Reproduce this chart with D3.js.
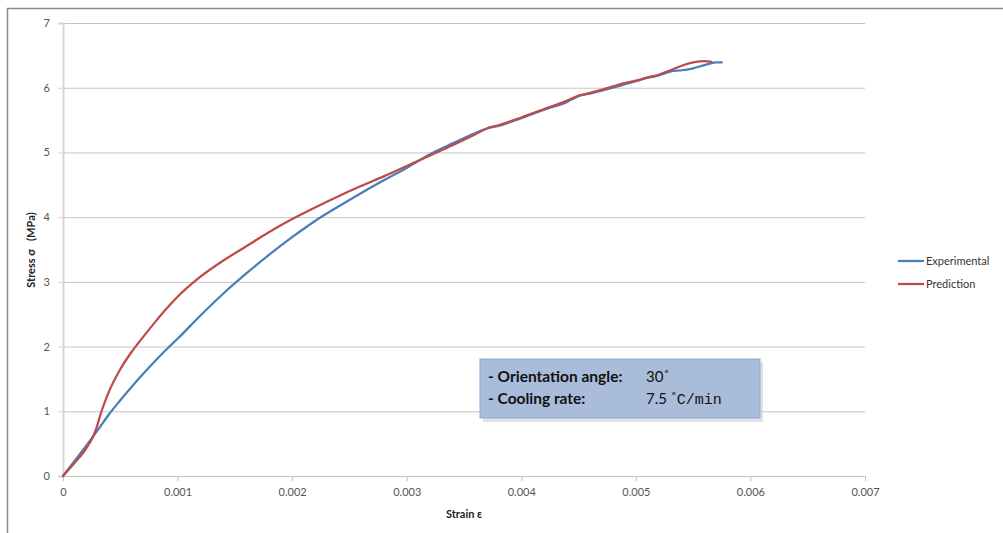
<!DOCTYPE html>
<html>
<head>
<meta charset="utf-8">
<script src="https://cdn.jsdelivr.net/npm/d3@7"></script>
<style>
  body { margin: 0; background: #fff; }
  svg { display: block; font-family: Lato, "Open Sans", sans-serif; }
</style>
</head>
<body>
<svg></svg>
<script>
let W = 1003;
let H = 533;

// data
let expStrain = [0, 0.0001, 0.0002, 0.0003, 0.0004, 0.0005, 0.0006, 0.0007, 0.0008, 0.0009, 0.001,
    0.0012, 0.0014, 0.0016, 0.0018, 0.002, 0.0022, 0.0024, 0.0026, 0.0028, 0.003, 0.0032, 0.0034,
    0.0036, 0.0037, 0.0038, 0.004, 0.0042, 0.0044, 0.0045, 0.0046, 0.0048, 0.0049, 0.005, 0.0051,
    0.0052, 0.0053, 0.0054, 0.0055, 0.0056, 0.0057, 0.00575];
let expStress = [0, 0.23, 0.46, 0.7, 0.95, 1.17, 1.38, 1.58, 1.77, 1.95, 2.12,
    2.48, 2.82, 3.13, 3.42, 3.69, 3.94, 4.16, 4.37, 4.57, 4.76, 4.97, 5.14,
    5.3, 5.37, 5.41, 5.53, 5.66, 5.78, 5.87, 5.91, 6.0, 6.05, 6.1, 6.15,
    6.19, 6.25, 6.27, 6.3, 6.35, 6.39, 6.39];

let predStrain = [0, 0.0001, 0.0002, 0.00028, 0.00034, 0.0004, 0.0005, 0.0006, 0.0007, 0.0008, 0.0009,
    0.001, 0.0012, 0.0014, 0.0016, 0.0018, 0.002, 0.0022, 0.0024, 0.0026, 0.0028, 0.003, 0.0032,
    0.0034, 0.0036, 0.0037, 0.0038, 0.004, 0.0042, 0.0044, 0.0045, 0.0046, 0.0048, 0.0049, 0.005,
    0.0051, 0.0052, 0.0053, 0.0054, 0.0055, 0.0056, 0.00566];
let predStress = [0, 0.2, 0.42, 0.68, 1.02, 1.3, 1.65, 1.92, 2.15, 2.37, 2.58,
    2.77, 3.08, 3.33, 3.55, 3.77, 3.97, 4.15, 4.32, 4.48, 4.63, 4.79, 4.95,
    5.11, 5.28, 5.37, 5.42, 5.54, 5.67, 5.8, 5.88, 5.92, 6.02, 6.07, 6.11,
    6.16, 6.2, 6.27, 6.34, 6.39, 6.41, 6.4];

let xTicks = [0, 0.001, 0.002, 0.003, 0.004, 0.005, 0.006, 0.007];
let yTicks = [0, 1, 2, 3, 4, 5, 6, 7];
let seriesNames = ["Experimental", "Prediction"];
let seriesColors = ["#4a7ebb", "#be4b48"];

let svg = d3.select("svg").attr("width", W).attr("height", H);

// outer frame (only left and top visible)
svg.append("path")
    .attr("d", "M7.5," + H + " L7.5,8.5 L" + W + ",8.5")
    .attr("fill", "none")
    .attr("stroke", "#8a8a8a")
    .attr("stroke-width", 1.5);

let x = d3.scaleLinear().domain([0, 0.007]).range([63, 865]);
let y = d3.scaleLinear().domain([0, 7]).range([476, 23]);

// gridlines
svg.append("g")
    .selectAll("line")
    .data(yTicks.slice(1))
    .enter().append("line")
    .attr("x1", x(0)).attr("x2", x(0.007))
    .attr("y1", function (d) { return y(d) + 0.5; })
    .attr("y2", function (d) { return y(d) + 0.5; })
    .attr("stroke", "#c4c4c4")
    .attr("stroke-width", 1);

// y axis
let yAxis = svg.append("g")
    .attr("transform", "translate(" + x(0) + ",0)")
    .call(d3.axisLeft(y).tickValues(yTicks).tickSize(5).tickPadding(8).tickFormat(d3.format("d")));
yAxis.select(".domain").attr("stroke", "#d6d6d6").attr("stroke-width", 2);
yAxis.selectAll(".tick line").attr("stroke", "#d6d6d6");
yAxis.selectAll("text").attr("fill", "#555").style("font-size", "11px").style("font-family", "Lato, sans-serif");

// x axis
let xAxis = svg.append("g")
    .attr("transform", "translate(0," + y(0) + ")")
    .call(d3.axisBottom(x).tickValues(xTicks).tickSize(5).tickPadding(7).tickFormat(function (d) {
        return d === 0 ? "0" : d3.format(".3f")(d);
    }));
xAxis.select(".domain").attr("stroke", "#c4c4c4").attr("stroke-width", 1);
xAxis.selectAll(".tick line").attr("stroke", "#c4c4c4");
xAxis.selectAll("text").attr("fill", "#555").style("font-size", "11px").style("font-family", "Lato, sans-serif");

// axis titles
svg.append("text")
    .attr("x", 464).attr("y", 518)
    .attr("text-anchor", "middle")
    .style("font-size", "11px").style("font-weight", "bold").attr("fill", "#222")
    .text("Strain ε");

svg.append("text")
    .attr("transform", "translate(35,250) rotate(-90)")
    .attr("text-anchor", "middle")
    .style("font-size", "11px").style("font-weight", "bold").attr("fill", "#222")
    .attr("xml:space", "preserve")
    .text("Stress σ   (MPa)");

// curves
let line = d3.line()
    .x(function (d) { return x(d[0]); })
    .y(function (d) { return y(d[1]); })
    .curve(d3.curveMonotoneX);

let series = [
    d3.zip(expStrain, expStress),
    d3.zip(predStrain, predStress)
];

svg.append("g")
    .selectAll("path")
    .data(series)
    .enter().append("path")
    .attr("d", line)
    .attr("fill", "none")
    .attr("stroke", function (d, i) { return seriesColors[i]; })
    .attr("stroke-width", 2.25)
    .attr("stroke-linejoin", "round")
    .attr("stroke-linecap", "round");

// legend
let legend = svg.append("g")
    .selectAll("g")
    .data(seriesNames)
    .enter().append("g")
    .attr("transform", function (d, i) { return "translate(898," + (261 + i * 23) + ")"; });

legend.append("line")
    .attr("x1", 0).attr("x2", 26)
    .attr("stroke", function (d, i) { return seriesColors[i]; })
    .attr("stroke-width", 2.25);

legend.append("text")
    .attr("x", 28).attr("y", 4)
    .style("font-size", "11px").attr("fill", "#333")
    .text(function (d) { return d; });

// annotation box
let box = svg.append("g").attr("transform", "translate(480,359)");
box.append("rect")
    .attr("x", 3).attr("y", 3).attr("width", 280).attr("height", 60)
    .attr("fill", "#cfcfcf").attr("opacity", 0.6);
box.append("rect")
    .attr("width", 280).attr("height", 59)
    .attr("fill", "#a9bcd9")
    .attr("stroke", "#8eaadb")
    .attr("stroke-width", 1);

box.append("text").attr("x", 8).attr("y", 23)
    .style("font-size", "15.5px").style("font-weight", "bold").attr("fill", "#111")
    .text("- Orientation angle:");
box.append("text").attr("x", 8).attr("y", 45)
    .style("font-size", "15.5px").style("font-weight", "bold").attr("fill", "#111")
    .text("- Cooling rate:");

box.append("text").attr("x", 166).attr("y", 23)
    .style("font-size", "15px").attr("fill", "#111")
    .text("30˚");
let rate = box.append("text").attr("x", 166).attr("y", 45)
    .style("font-size", "15px").attr("fill", "#111");
rate.append("tspan").text("7.5 ˚");
rate.append("tspan").style("font-family", "'Liberation Mono', monospace").text("C/min");
</script>
</body>
</html>
